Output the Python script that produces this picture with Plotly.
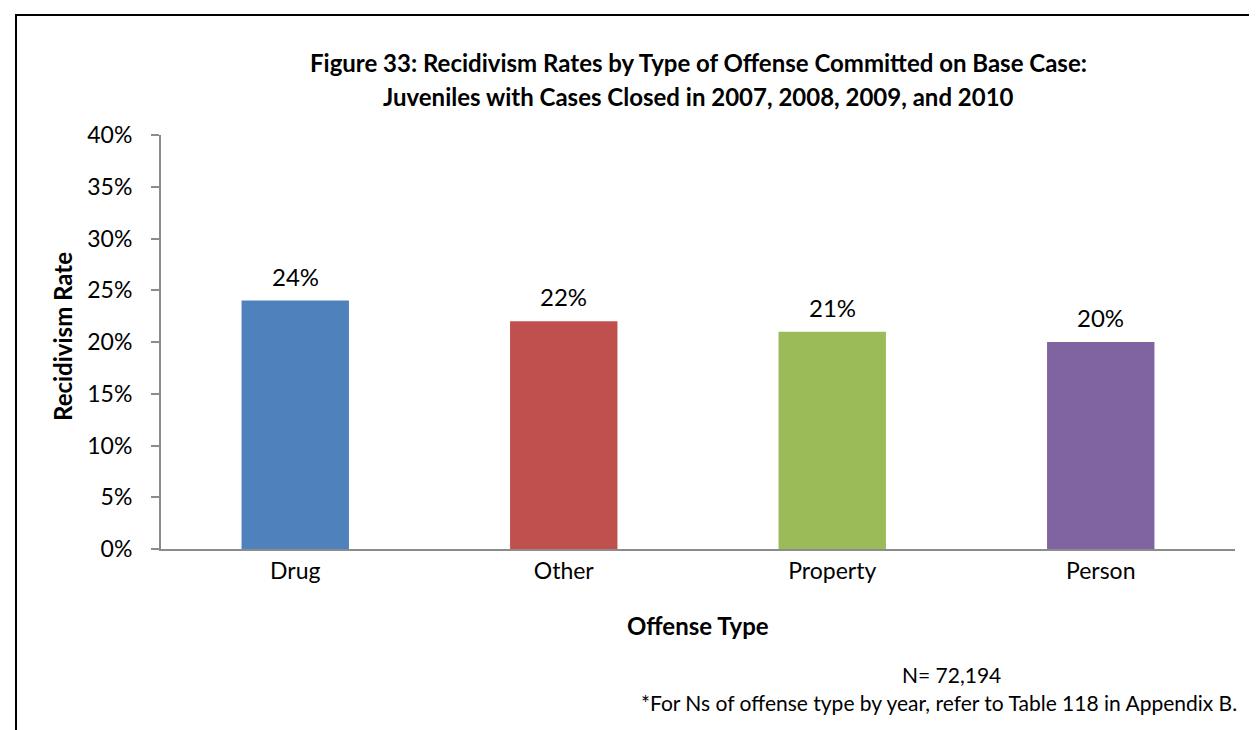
import plotly.graph_objects as go

categories = ["Drug", "Other", "Property", "Person"]
rates = [24, 22, 21, 20]
colors = ["#4F81BD", "#C0504D", "#9BBB59", "#8064A2"]
tick_vals = [0, 5, 10, 15, 20, 25, 30, 35, 40]
tick_text = [f"{v}%" for v in tick_vals]

FONT = "Lato"
AXIS_COLOR = "#8C8C8C"

fig = go.Figure()
fig.add_trace(go.Bar(
    x=categories,
    y=rates,
    marker=dict(color=colors, line=dict(width=0)),
    width=0.4,
))

L, R, T, B = 153, 30, 127, 189
W, H = 1257, 730
pw, ph = W - L - R, H - T - B

def px(x):
    return (x - L) / pw

def py(y):
    return (H - B - y) / ph

annotations = [
    dict(text=f"{v}%", x=c, y=v, xref="x", yref="y", xanchor="center", yanchor="bottom",
         yshift=8, showarrow=False, font=dict(family=FONT, size=24, color="#000000"))
    for c, v in zip(categories, rates)
]

annotations += [
    dict(text="<b>Figure 33: Recidivism Rates by Type of Offense Committed on Base Case:</b>",
         xref="paper", yref="paper", x=0.5, y=py(54), xanchor="center", yanchor="middle",
         showarrow=False, font=dict(family=FONT, size=24)),
    dict(text="<b>Juveniles with Cases Closed in 2007, 2008, 2009, and 2010</b>",
         xref="paper", yref="paper", x=0.5, y=py(88), xanchor="center", yanchor="middle",
         showarrow=False, font=dict(family=FONT, size=24)),
    dict(text="<b>Recidivism Rate</b>", textangle=-90,
         xref="paper", yref="paper", x=px(54), y=py(329), xanchor="center", yanchor="middle",
         showarrow=False, font=dict(family=FONT, size=24)),
    dict(text="<b>Offense Type</b>",
         xref="paper", yref="paper", x=0.5, y=py(617), xanchor="center", yanchor="middle",
         showarrow=False, font=dict(family=FONT, size=24)),
    dict(text="N= 72,194",
         xref="paper", yref="paper", x=px(995), y=py(666), xanchor="right", yanchor="middle",
         showarrow=False, font=dict(family=FONT, size=21)),
    dict(text="*For Ns of offense type by year, refer to Table 118 in Appendix B.",
         xref="paper", yref="paper", x=px(1231), y=py(694), xanchor="right", yanchor="middle",
         showarrow=False, font=dict(family=FONT, size=21)),
]

fig.update_layout(
    width=W, height=H,
    margin=dict(l=L, r=R, t=T, b=B),
    paper_bgcolor="white",
    plot_bgcolor="white",
    showlegend=False,
    font=dict(family=FONT, color="#000000"),
    xaxis=dict(
        showline=True, linecolor=AXIS_COLOR, linewidth=2,
        ticks="", tickfont=dict(family=FONT, size=23),
    ),
    yaxis=dict(
        range=[0, 40],
        tickvals=tick_vals, ticktext=tick_text,
        showline=True, linecolor=AXIS_COLOR, linewidth=2,
        ticks="outside", ticklen=8, tickcolor=AXIS_COLOR, tickwidth=2,
        ticklabelstandoff=14,
        showgrid=False, zeroline=False,
        tickfont=dict(family=FONT, size=23),
    ),
    annotations=annotations,
    shapes=[
        dict(type="rect", xref="paper", yref="paper",
             x0=px(8), x1=px(1252), y0=py(760), y1=py(7),
             line=dict(color="#000000", width=2), fillcolor="rgba(0,0,0,0)", layer="above"),
    ],
)

fig.write_html("out.html")
